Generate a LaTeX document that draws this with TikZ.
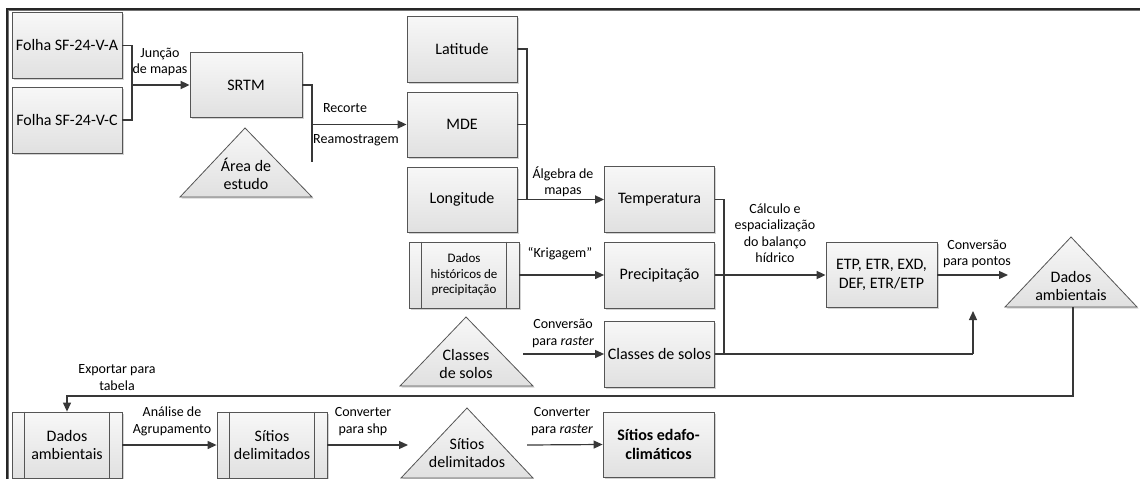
\documentclass[tikz,border=0pt]{standalone}
\usepackage{fontspec}
\setmainfont{Carlito}
\usetikzlibrary{arrows.meta,shadows,calc}
\definecolor{ln}{HTML}{383838}
\definecolor{bd}{HTML}{555555}
\tikzset{
  box/.style={draw=bd, line width=0.8pt, top color=black!3, bottom color=black!12,
    minimum width=110pt, minimum height=66pt, inner sep=1pt, align=center,
    font=\fontsize{16}{18.5}\selectfont,
    drop shadow={shadow xshift=1.5pt, shadow yshift=-1.5pt, fill=black!35, opacity=0.5}},
  tri/.style={draw=bd, line width=0.8pt, top color=black!3, bottom color=black!12,
    drop shadow={shadow xshift=1.5pt, shadow yshift=-1.5pt, fill=black!35, opacity=0.5}},
  ttext/.style={align=center, font=\fontsize{16}{18.5}\selectfont, inner sep=0pt},
  lab/.style={align=center, font=\fontsize{14}{16.5}\selectfont, inner sep=0pt},
  small/.style={font=\fontsize{13}{15.5}\selectfont},
  conn/.style={draw=ln, line width=1.1pt},
  arr/.style={draw=ln, line width=1.7pt, -{Triangle[length=9pt,width=8pt]}},
  arrthin/.style={draw=ln, line width=1.2pt, -{Triangle[length=9pt,width=8pt]}},
  inner/.style={draw=bd, line width=0.8pt}
}
\begin{document}
\begin{tikzpicture}[x=1pt,y=-1pt]
\useasboundingbox (0,0) rectangle (1140,479);
% frame
\draw[black!55, line width=1pt] (8.5,479) -- (8.5,10.8) -- (1140,10.8);
\draw[black!85, line width=2pt] (7,479) -- (7,9) -- (1140,9);

% boxes
\node[box] (fa) at (67,45.5) {Folha SF-24-V-A};
\node[box] (fc) at (67,120) {Folha SF-24-V-C};
\node[box, minimum width=112pt, minimum height=65pt] (srtm) at (246,85) {SRTM};
\node[box] (lat) at (462,49) {Latitude};
\node[box, minimum height=65pt] (mde) at (462,124.5) {MDE};
\node[box, minimum height=65pt] (lon) at (462,199.5) {Longitude};
\node[box] (temp) at (659.5,199.5) {Temperatura};
\node[box, small] (dh) at (464,275) {Dados\\históricos de\\precipitação};
\node[box] (prec) at (659.5,275) {Precipitação};
\node[box] (clsb) at (659.5,354) {Classes de solos};
\node[box, minimum width=111pt, minimum height=65pt] (etp) at (881.5,275) {ETP, ETR, EXD,\\DEF, ETR/ETP};
\node[box] (dab) at (67,445) {Dados\\ambientais};
\node[box] (sd) at (272,445) {Sítios\\delimitados};
\node[box, minimum width=111pt, minimum height=65pt] (se) at (658.5,444.5) {\textbf{Sítios edafo-}\\\textbf{climáticos}};

% inner lines of process boxes
\foreach \n in {dh,dab,sd}{
  \draw[inner] ($(\n.north west)+(13,0)$) -- ($(\n.south west)+(13,0)$);
  \draw[inner] ($(\n.north east)+(-13,0)$) -- ($(\n.south east)+(-13,0)$);
}

% triangles
\draw[tri] (245,128) -- (312,197) -- (180,197) -- cycle;
\node[ttext] (area) at (246,174) {Área de\\estudo};
\draw[tri] (466,317) -- (533,386) -- (400,386) -- cycle;
\node[ttext] (clst) at (466,364) {Classes\\de solos};
\draw[tri] (1071,237) -- (1137,307) -- (1005,307) -- cycle;
\node[ttext] (dat) at (1071,286) {Dados\\ambientais};
\draw[tri] (467,408) -- (533,478) -- (401,478) -- cycle;
\node[ttext] (sdt) at (467,453) {Sítios\\delimitados};

% coordinates
\coordinate (j1) at (132,85);
\coordinate (j2) at (312,124.5);
\coordinate (j2b) at (312,162);
\coordinate (j3) at (527,199.5);
\coordinate (j4) at (724,275);
\coordinate (ct) at (523,354);
\coordinate (j5) at (973,354);
\coordinate (j6) at (973,311);
\coordinate (j7) at (1008,275);
\coordinate (db) at (1073,307);
\coordinate (j8) at (67,396);
\coordinate (j9) at (408,445);
\coordinate (j10) at (527,445);

% connectors
\draw[conn] (fa.east) -| (j1);
\draw[conn] (fc.east) -| (j1);
\draw[arr] (j1) -- (srtm.west);
\draw[conn] (srtm.east) -| (j2b);
\draw[arr] (j2) -- (mde.west);
\draw[conn] (lat.east) -| (j3);
\draw[conn] (mde.east) -- (mde.east -| j3);
\draw[conn] (lon.east) -- (j3);
\draw[arr] (j3) -- (temp.west);
\draw[arrthin] (dh.east) -- (prec.west);
\draw[arrthin] (ct) -- (clsb.west);
\draw[conn] (temp.east) -| (j4);
\draw[conn] (j4) -- (j4 |- clsb.east);
\draw[arr] (prec.east) -- (etp.west);
\draw[conn] (clsb.east) -- (j5);
\draw[arrthin] (j5) -- (j6);
\draw[arrthin] (etp.east) -- (j7);
\draw[arrthin] (db) |- (j8) -- (dab.north);
\draw[arrthin] (dab.east) -- (sd.west);
\draw[arrthin] (sd.east) -- (j9);
\draw[arrthin] (j10) -- (se.west);

% labels
\node[lab] (l1) at (160,62) {Junção\\de mapas};
\node[lab] (l2) at (345,108) {Recorte};
\node[lab] (l3) at (356,140) {Reamostragem};
\node[lab] (l4) at (563,182) {Álgebra de\\mapas};
\node[lab] (l5) at (560,254) {“Krigagem”};
\node[lab] (l6) at (563,333.5) {Conversão\\para \textit{raster}};
\node[lab] (l7) at (775,233) {Cálculo e\\espacialização\\do balanço\\hídrico};
\node[lab] (l8) at (977,254) {Conversão\\para pontos};
\node[lab] (l9) at (117,377.5) {Exportar para\\tabela};
\node[lab] (l10) at (172,421.5) {Análise de\\Agrupamento};
\node[lab] (l11) at (363,421.5) {Converter\\para shp};
\node[lab] (l12) at (562,421.5) {Converter\\para \textit{raster}};
\end{tikzpicture}
\end{document}
